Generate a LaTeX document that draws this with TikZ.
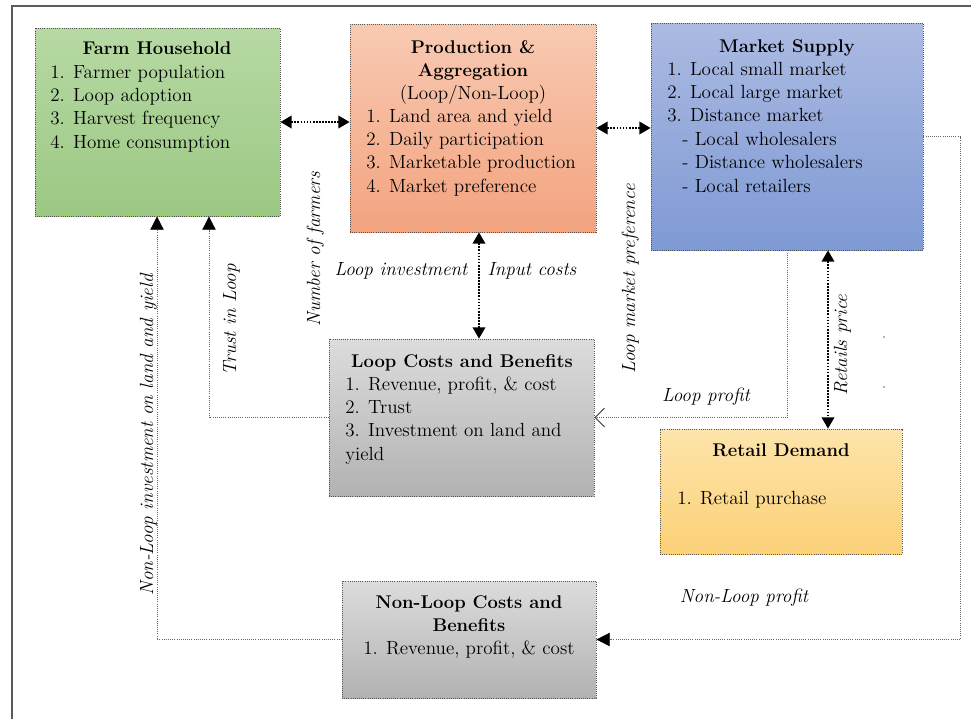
\documentclass[tikz,border=0pt]{standalone}
\usepackage{fontspec}
\usetikzlibrary{arrows.meta,fit,calc}
\definecolor{frameg}{HTML}{5A5A5A}
\definecolor{lineg}{HTML}{666666}
\definecolor{boxline}{HTML}{555555}
\definecolor{fhTop}{HTML}{B7D9A4}
\definecolor{fhBot}{HTML}{9BC883}
\definecolor{paTop}{HTML}{F8CAB3}
\definecolor{paBot}{HTML}{F3A37F}
\definecolor{msTop}{HTML}{ABBAE2}
\definecolor{msBot}{HTML}{7F9AD4}
\definecolor{gTop}{HTML}{DCDCDC}
\definecolor{gBot}{HTML}{B2B2B2}
\definecolor{rdTop}{HTML}{FDE4AB}
\definecolor{rdBot}{HTML}{FCD177}
\newcommand{\ttl}{\fontsize{13.8}{17.6}\selectfont\bfseries}
\tikzset{
  box/.style={inner sep=0pt, draw=boxline, line width=0.6pt, densely dotted},
  txt/.style={inner sep=0pt, font=\fontsize{14.3}{17.6}\selectfont},
  lbl/.style={inner sep=0pt, font=\fontsize{14.3}{17.6}\selectfont\itshape},
  route/.style={draw=lineg, line width=0.6pt, densely dotted},
  biarrow/.style={draw=black, line width=1.3pt, densely dotted, {Triangle[length=8.5pt,width=9.5pt]}-{Triangle[length=8.5pt,width=9.5pt]}},
  fillarrow/.style={route, -{Triangle[length=10pt,width=10pt,color=black]}},
  openarrow/.style={route, -{Straight Barb[length=7pt,width=14pt,line width=0.8pt,color=black!70]}},
}
\begin{document}
\begin{tikzpicture}[x=0.75pt,y=-0.75pt]
\useasboundingbox (0,0) rectangle (971,719);
% outer frame (top and left visible)
\draw[frameg, line width=1.2pt] (12,719) -- (12,6) -- (971,6);

% boxes
\node[box, top color=fhTop, bottom color=fhBot, fit={(35,28) (280,216)}] (farm) {};
\node[box, top color=paTop, bottom color=paBot, fit={(350,24) (596,232)}] (prod) {};
\node[box, top color=msTop, bottom color=msBot, fit={(651,23) (923,250)}] (mkt) {};
\node[box, top color=gTop, bottom color=gBot, fit={(329,339) (594,496)}] (loop) {};
\node[box, top color=rdTop, bottom color=rdBot, fit={(660,429) (902,554)}] (retail) {};
\node[box, top color=gTop, bottom color=gBot, fit={(342,581) (596,698)}] (nonloop) {};

% box texts
\node[txt, anchor=base] (farmT) at (157,54) {\ttl Farm Household};
\node[txt, anchor=base west] (farmL) at (50,78) {\begin{tabular}[t]{@{}l@{}}1. Farmer population\\2. Loop adoption\\3. Harvest frequency\\4. Home consumption\end{tabular}};

\node[txt, anchor=base] (prodT) at (473,53) {\begin{tabular}[t]{@{}c@{}}\ttl Production \&\\\ttl Aggregation\\(Loop/Non-Loop)\end{tabular}};
\node[txt, anchor=base west] (prodL) at (366,122) {\begin{tabular}[t]{@{}l@{}}1. Land area and yield\\2. Daily participation\\3. Marketable production\\4. Market preference\end{tabular}};

\node[txt, anchor=base] (mktT) at (787,52) {\ttl Market Supply};
\node[txt, anchor=base west] (mktL) at (667,75) {\begin{tabular}[t]{@{}l@{}}1. Local small market\\2. Local large market\\3. Distance market\\\hspace{11.3pt}- Local wholesalers\\\hspace{11.3pt}- Distance wholesalers\\\hspace{11.3pt}- Local retailers\end{tabular}};

\node[txt, anchor=base] (loopT) at (462,367) {\ttl Loop Costs and Benefits};
\node[txt, anchor=base west] (loopL) at (345,390) {\begin{tabular}[t]{@{}l@{}}1. Revenue, profit, \& cost\\2. Trust\\3. Investment on land and\\yield\end{tabular}};

\node[txt, anchor=base] (retailT) at (781,456) {\ttl Retail Demand};
\node[txt, anchor=base west] (retailL) at (677,504) {1. Retail purchase};

\node[txt, anchor=base] (nonloopT) at (469,608) {\begin{tabular}[t]{@{}c@{}}\ttl Non-Loop Costs and\\\ttl Benefits\\1. Revenue, profit, \& cost\end{tabular}};

% helper coordinates
\coordinate (cPL) at (479,0);
\coordinate (cMR) at (828,0);
\coordinate (cRt) at (960,0);
\coordinate (cTr) at (209,0);
\coordinate (cNL) at (157,0);

% connectors
\draw[biarrow] (farm.east) -- (farm.east -| prod.west);
\draw[biarrow] (prod.east) -- (prod.east -| mkt.west);
\draw[biarrow] (cPL |- prod.south) -- (cPL |- loop.north);
\draw[biarrow] (cMR |- mkt.south) -- (cMR |- retail.north);
\draw[openarrow] (mkt.south) |- (loop.east);
\draw[fillarrow] (mkt.east) -- (mkt.east -| cRt) |- (nonloop.east);
\draw[fillarrow] (loop.west) -| (cTr |- farm.south);
\draw[fillarrow] (nonloop.west) -| (cNL |- farm.south);

% labels
\node[lbl, anchor=base, rotate=90] (lNum) at (320,249) {Number of farmers};
\node[lbl, anchor=base, rotate=90] (lTrust) at (236,320) {Trust in Loop};
\node[lbl, anchor=base, rotate=90] (lNLinv) at (153,435) {Non-Loop investment on land and yield};
\node[lbl, anchor=base, rotate=90] (lLmp) at (635,279) {Loop market preference};
\node[lbl, anchor=base, rotate=90] (lRp) at (847,345) {Retails price};
\node[lbl, anchor=base] (lLinv) at (401,275) {Loop investment};
\node[lbl, anchor=base] (lInp) at (532,275) {Input costs};
\node[lbl, anchor=base] (lLp) at (706,401) {Loop profit};
\node[lbl, anchor=base] (lNLp) at (744,602) {Non-Loop profit};

% tiny marks
\fill[lineg] (884,337) circle (0.8);
\fill[lineg] (884,387) circle (0.8);
\end{tikzpicture}
\end{document}
